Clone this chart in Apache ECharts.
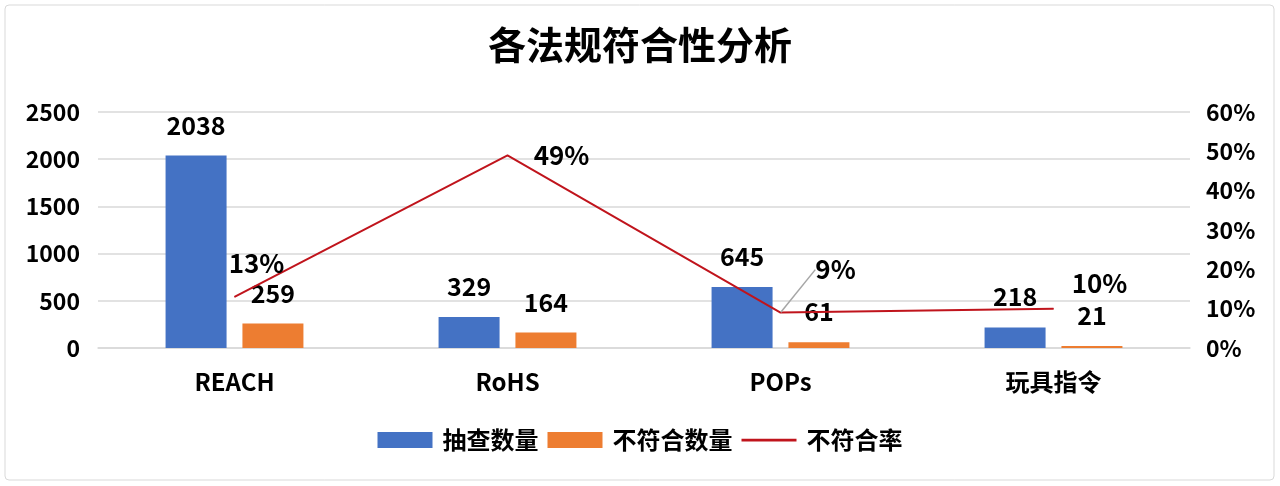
<!DOCTYPE html>
<html><head><meta charset="utf-8">
<script src="https://cdn.jsdelivr.net/npm/echarts@6/dist/echarts.min.js"></script>
<style>html,body{margin:0;padding:0;background:#fff}#c{width:1280px;height:486px}</style>
</head><body><div id="c"></div>
<script>
const categories = ['REACH', 'RoHS', 'POPs', '玩具指令'];
const sampled = [2038, 329, 645, 218];
const nonCompliant = [259, 164, 61, 21];
const rate = [0.13, 0.49, 0.09, 0.10];
const leftTicks = [0, 500, 1000, 1500, 2000, 2500];
const rightTicks = [0, 0.1, 0.2, 0.3, 0.4, 0.5, 0.6];

// label placement offsets for the rate labels (styling, not data)
const rateLabelShift = [[22, -34], [54, 0], [55, -43], [46, -26]];

const F = "'Noto Sans CJK SC', 'Noto Sans', sans-serif";
const chart = echarts.init(document.getElementById('c'));
const lbl = {fontFamily: F, fontWeight: 'bold', color: '#000', fontSize: 25};

chart.setOption({
  backgroundColor: '#fff',
  animation: false,
  graphic: [{type: 'rect', shape: {x: 5, y: 5, width: 1269, height: 475, r: 4},
    style: {fill: 'none', stroke: '#d9d9d9', lineWidth: 1}}],
  title: {text: '各法规符合性分析', left: 'center', top: 21,
    textStyle: {fontFamily: F, fontWeight: 'bold', fontSize: 38, color: '#000'}},
  legend: {bottom: 29, left: 'center', itemWidth: 55, itemHeight: 16, itemGap: 9,
    textStyle: Object.assign({}, lbl, {fontSize: 24, padding: [0, 0, 0, 5]}),
    data: [{name: '抽查数量', icon: 'rect'}, {name: '不符合数量', icon: 'rect'},
      {name: '不符合率', icon: 'path://M0,0H100V5H0Z', itemStyle: {color: '#C0141C', opacity: 1}}]},
  grid: {left: 98, right: 90, top: 112, bottom: 138},
  xAxis: {type: 'category', data: categories,
    axisLine: {lineStyle: {color: '#d9d9d9', width: 1.5}}, axisTick: {show: false},
    axisLabel: Object.assign({}, lbl, {margin: 22, fontSize: 24})},
  yAxis: [
    {type: 'value', min: leftTicks[0], max: leftTicks[leftTicks.length - 1], interval: 500,
      axisLine: {show: false}, axisTick: {show: false},
      splitLine: {lineStyle: {color: '#d9d9d9', width: 1.5}},
      axisLabel: Object.assign({}, lbl, {margin: 18, fontSize: 23, formatter: v => String(v)})},
    {type: 'value', min: rightTicks[0], max: rightTicks[rightTicks.length - 1], interval: 0.1,
      axisLine: {show: false}, axisTick: {show: false}, splitLine: {show: false},
      axisLabel: Object.assign({}, lbl, {margin: 16, fontSize: 23,
        formatter: v => Math.round(v * 100) + '%'})}
  ],
  series: [
    {name: '抽查数量', type: 'bar', data: sampled, barWidth: 61, barGap: '26%',
      itemStyle: {color: '#4472C4'},
      label: Object.assign({show: true, position: 'top', distance: 18}, lbl)},
    {name: '不符合数量', type: 'bar', data: nonCompliant, barWidth: 61,
      itemStyle: {color: '#ED7D31'},
      label: Object.assign({show: true, position: 'top', distance: 18}, lbl)},
    {name: '不符合率', type: 'line', yAxisIndex: 1, z: 5,
      data: rate.map((v, i) => i === 2 ? {value: v, labelLine: {show: true}} : v),
      symbol: 'circle', symbolSize: 1, showSymbol: true,
      lineStyle: {color: '#C0141C', width: 2}, itemStyle: {color: '#C0141C'},
      label: Object.assign({show: true, position: 'inside',
        formatter: p => Math.round(p.value * 100) + '%'}, lbl, {fontSize: 26}),
      labelLine: {show: false, lineStyle: {color: '#a6a6a6', width: 1.5}},
      labelLayout: p => ({dx: rateLabelShift[p.dataIndex][0], dy: rateLabelShift[p.dataIndex][1]})}
  ]
});
</script></body></html>
